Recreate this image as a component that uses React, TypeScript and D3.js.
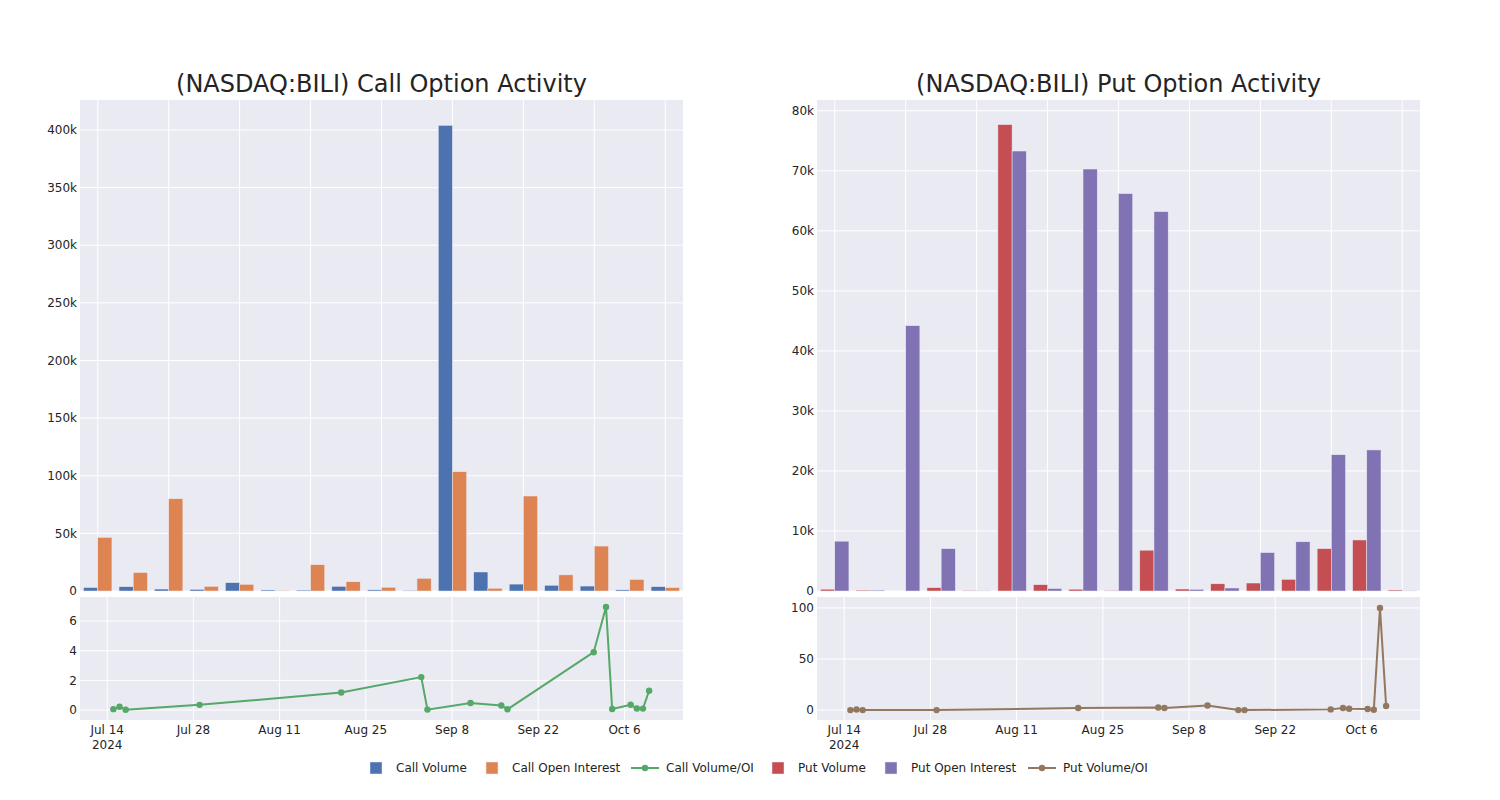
import React from "react";
import * as d3 from "d3";

const dates = ["2024-07-15","2024-07-16","2024-07-17","2024-07-29","2024-08-21","2024-09-03","2024-09-04","2024-09-11","2024-09-16","2024-09-17","2024-10-01","2024-10-03","2024-10-04","2024-10-07","2024-10-08","2024-10-09","2024-10-10"];

const callVolume = [3000, 3700, 1700, 1400, 7200, 900, 800, 4000, 1000, 600, 404000, 16500, 6000, 5000, 4300, 1000, 3700];
const callOI = [46500, 16000, 80000, 4000, 5800, 400, 22800, 8000, 3200, 11000, 103500, 2400, 82400, 14000, 39000, 10000, 2900];
const callRatio = [0.06, 0.22, 0.02, 0.35, 1.18, 2.22, 0.03, 0.48, 0.31, 0.05, 3.9, 6.95, 0.07, 0.36, 0.11, 0.1, 1.3];

const putVolume = [300, 150, 0, 550, 100, 77700, 1050, 300, 100, 6800, 330, 1200, 1330, 1940, 7050, 8500, 170];
const putOI = [8300, 150, 44200, 7050, 50, 73300, 400, 70300, 66200, 63200, 280, 500, 6400, 8200, 22700, 23500, 50];
const putRatio = [0, 0.6, 0, 0, 2, 2.6, 2, 4.5, 0, 0, 0.7, 2, 1.3, 1, 0.3, 100, 4];

const callBarTicks = [0, 50000, 100000, 150000, 200000, 250000, 300000, 350000, 400000];
const putBarTicks = [0, 10000, 20000, 30000, 40000, 50000, 60000, 70000, 80000];
const callRatioTicks = [0, 2, 4, 6];
const putRatioTicks = [0, 50, 100];
const dateTicks = ["2024-07-14","2024-07-28","2024-08-11","2024-08-25","2024-09-08","2024-09-22","2024-10-06"];

const BG = "#EAEAF2";
const TXT = "#242424";
const FONT = "DejaVu Sans, sans-serif";

const parse = (s: string) => new Date(s + "T00:00:00Z");
const fmtK = (v: number) => (v === 0 ? "0" : `${v / 1000}k`);
const fmtDate = d3.utcFormat("%b %-d");

type PanelProps = {
  x0: number; x1: number;
  title: string;
  vol: number[]; oi: number[]; ratio: number[];
  barMax: number; barTicks: number[];
  ratioDomain: [number, number]; ratioTicks: number[];
  cVol: string; cOI: string; cLine: string;
};

function Panel(p: PanelProps) {
  const top = 100, barBottom = 591, lineTop = 597, lineBottom = 720;
  const xb = d3.scaleBand<string>().domain(dates).range([p.x0, p.x1]).paddingInner(0.2).paddingOuter(0.1);
  const xs = d3.scaleBand<string>().domain(["v", "o"]).range([0, xb.bandwidth()]);
  const yb = d3.scaleLinear().domain([0, p.barMax]).range([barBottom, top]);
  const xt = d3.scaleUtc().domain([new Date(Date.UTC(2024, 6, 9, 14)), new Date(Date.UTC(2024, 9, 15, 12))]).range([p.x0, p.x1]);
  const yl = d3.scaleLinear().domain(p.ratioDomain).range([lineBottom, lineTop]);
  const line = d3.line<number>().x((_, i) => xt(parse(dates[i]))).y((d) => yl(d));
  const step = xb.step();
  const gridCats = dates.filter((_, i) => i % 2 === 0);
  return (
    <g>
      <text x={(p.x0 + p.x1) / 2} y={92} textAnchor="middle" fontSize={24} fill={TXT} fontFamily={FONT}>{p.title}</text>
      <rect x={p.x0} y={top} width={p.x1 - p.x0} height={barBottom - top} fill={BG} />
      {gridCats.map((c) => (
        <line key={c} x1={xb(c)! + xb.bandwidth() / 2} x2={xb(c)! + xb.bandwidth() / 2} y1={top} y2={barBottom} stroke="#fff" strokeWidth={1} />
      ))}
      {p.barTicks.map((t) => (
        <g key={t}>
          <line x1={p.x0} x2={p.x1} y1={yb(t)} y2={yb(t)} stroke="#fff" strokeWidth={1} />
          <text x={p.x0 - 3} y={yb(t)} dy="0.35em" textAnchor="end" fontSize={12} fill={TXT} fontFamily={FONT}>{fmtK(t)}</text>
        </g>
      ))}
      {dates.map((c, i) => (
        <g key={c}>
          <rect x={xb(c)! + xs("v")!} y={yb(p.vol[i])} width={xs.bandwidth()} height={barBottom - yb(p.vol[i])} fill={p.cVol} stroke={BG} strokeWidth={0.5} />
          <rect x={xb(c)! + xs("o")!} y={yb(p.oi[i])} width={xs.bandwidth()} height={barBottom - yb(p.oi[i])} fill={p.cOI} stroke={BG} strokeWidth={0.5} />
        </g>
      ))}
      <rect x={p.x0} y={lineTop} width={p.x1 - p.x0} height={lineBottom - lineTop} fill={BG} />
      {dateTicks.map((d, i) => {
        const x = xt(parse(d));
        return (
          <g key={d}>
            <line x1={x} x2={x} y1={lineTop} y2={lineBottom} stroke="#fff" strokeWidth={1} />
            <text x={x} y={734} textAnchor="middle" fontSize={12} fill={TXT} fontFamily={FONT}>{fmtDate(parse(d))}</text>
            {i === 0 && <text x={x} y={749} textAnchor="middle" fontSize={12} fill={TXT} fontFamily={FONT}>2024</text>}
          </g>
        );
      })}
      {p.ratioTicks.map((t) => (
        <g key={t}>
          <line x1={p.x0} x2={p.x1} y1={yl(t)} y2={yl(t)} stroke="#fff" strokeWidth={1} />
          <text x={p.x0 - 3} y={yl(t)} dy="0.35em" textAnchor="end" fontSize={12} fill={TXT} fontFamily={FONT}>{t}</text>
        </g>
      ))}
      <path d={line(p.ratio)!} fill="none" stroke={p.cLine} strokeWidth={2} />
      {p.ratio.map((v, i) => (
        <circle key={i} cx={xt(parse(dates[i]))} cy={yl(v)} r={3.2} fill={p.cLine} />
      ))}
    </g>
  );
}

const legendItems = [
  { label: "Call Volume", color: "#4C72B0", kind: "bar", x: 370 },
  { label: "Call Open Interest", color: "#DD8452", kind: "bar", x: 486 },
  { label: "Call Volume/OI", color: "#55A868", kind: "line", x: 631 },
  { label: "Put Volume", color: "#C44E52", kind: "bar", x: 772 },
  { label: "Put Open Interest", color: "#8172B3", kind: "bar", x: 885 },
  { label: "Put Volume/OI", color: "#937860", kind: "line", x: 1028 },
];

export default function App() {
  return (
    <svg width={1500} height={800} style={{ position: "absolute", left: 0, top: 0, background: "#fff" }}>
      <rect x={0} y={0} width={1500} height={800} fill="#fff" />
      <Panel x0={80} x1={683} title="(NASDAQ:BILI) Call Option Activity" vol={callVolume} oi={callOI} ratio={callRatio}
        barMax={426000} barTicks={callBarTicks} ratioDomain={[-0.67, 7.62]} ratioTicks={callRatioTicks}
        cVol="#4C72B0" cOI="#DD8452" cLine="#55A868" />
      <Panel x0={817} x1={1420} title="(NASDAQ:BILI) Put Option Activity" vol={putVolume} oi={putOI} ratio={putRatio}
        barMax={81800} barTicks={putBarTicks} ratioDomain={[-9.7, 110.7]} ratioTicks={putRatioTicks}
        cVol="#C44E52" cOI="#8172B3" cLine="#937860" />
      {legendItems.map((it) => (
        <g key={it.label}>
          {it.kind === "bar" ? (
            <rect x={it.x} y={762} width={12} height={12} fill={it.color} stroke={BG} strokeWidth={0.5} />
          ) : (
            <g>
              <line x1={it.x} x2={it.x + 28} y1={768} y2={768} stroke={it.color} strokeWidth={2} />
              <circle cx={it.x + 14} cy={768} r={3.2} fill={it.color} />
            </g>
          )}
          <text x={it.kind === "bar" ? it.x + 26 : it.x + 35} y={772} fontSize={12} fill={TXT} fontFamily={FONT}>{it.label}</text>
        </g>
      ))}
    </svg>
  );
}
